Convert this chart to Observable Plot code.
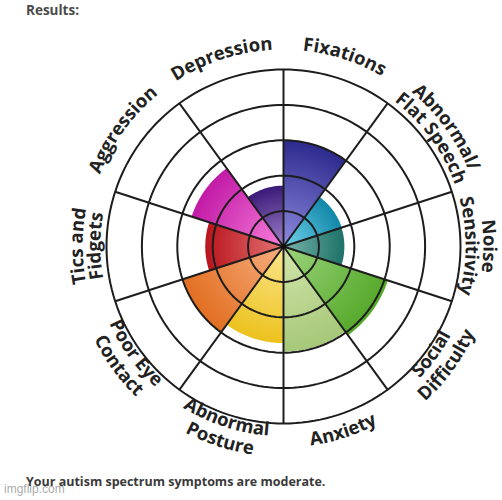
<!DOCTYPE html>
<html>
<head>
<meta charset="utf-8">
<script src="https://cdn.jsdelivr.net/npm/d3@7"></script>
<script src="https://cdn.jsdelivr.net/npm/@observablehq/plot@0.6"></script>
<style>
  html, body { margin: 0; padding: 0; background: #fff; }
  #wrap { position: relative; width: 502px; height: 500px; overflow: hidden; font-family: "Open Sans", sans-serif; }
  #title { position: absolute; left: 26px; top: 1px; font-weight: 700; font-size: 13.5px; line-height: 18px; color: #4a4a4a; }
  #chart { position: absolute; left: 0; top: 24px; }
  #caption { position: absolute; left: 26px; top: 473px; font-weight: 700; font-size: 12.5px; line-height: 18px; color: #3a3a3a; }
  #mark { position: absolute; left: 4px; top: 482px; font-family: "Liberation Sans", Arial, sans-serif; font-size: 12px; line-height: 14px; color: rgba(140,140,140,0.75); }
</style>
</head>
<body>
<div id="wrap">
  <div id="title"></div>
  <div id="chart"></div>
  <div id="caption"></div>
  <div id="mark"></div>
</div>
<script>
// ---- data ----
const titleText = "Results:";
const captionText = "Your autism spectrum symptoms are moderate.";
const watermarkText = "imgflip.com";
const categories = ["Fixations", "Abnormal/Flat Speech", "Noise Sensitivity", "Social Difficulty", "Anxiety",
  "Abnormal Posture", "Poor Eye Contact", "Tics and Fidgets", "Aggression", "Depression"];
const scores = [3.0, 1.73, 1.72, 3.1, 2.97, 2.73, 3.0, 2.21, 2.73, 1.72];
const labelLines = [["Fixations"], ["Abnormal/", "Flat Speech"], ["Noise", "Sensitivity"], ["Social", "Difficulty"],
  ["Anxiety"], ["Abnormal", "Posture"], ["Poor Eye", "Contact"], ["Tics and", "Fidgets"], ["Aggression"], ["Depression"]];
const outerColors = ["#2d2a8e", "#1287a8", "#1e7268", "#55a82a", "#a6c878", "#ecc21e", "#e26f22", "#b9151d", "#c21aa6", "#3a1a78"];
const innerColors = ["#8e8be0", "#72d2ec", "#78b4ac", "#9cd47c", "#d2e6ac", "#fbe68e", "#f7ae80", "#e47474", "#f77edb", "#a082cc"];
const ringLevels = [1, 2, 3, 4, 5];

// ---- layout ----
const W = 502, H = 446, CX = 283, CY = 222, UNIT = 35.4;
const maxLevel = d3.max(ringLevels);
const step = 360 / categories.length;
const rad = d => d * Math.PI / 180;
const pt = (r, deg) => ({x: r * Math.sin(rad(deg)), y: r * Math.cos(rad(deg))});

document.getElementById("title").textContent = titleText;
document.getElementById("caption").textContent = captionText;
document.getElementById("mark").textContent = watermarkText;

const wedges = categories.map((c, i) => {
  const a0 = i * step, a1 = (i + 1) * step;
  const pts = [{x: 0, y: 0}];
  for (let k = 0; k <= 30; k++) pts.push(pt(scores[i], a0 + (a1 - a0) * k / 30));
  return pts;
});
const ringPts = ringLevels.flatMap(r => d3.range(0, 360, 2).map(a => ({...pt(r, a), ring: r})));
const spokes = categories.map((c, i) => {
  const p = pt(maxLevel, i * step);
  return {x1: 0, y1: 0, x2: p.x, y2: p.y};
});

const plot = Plot.plot({
  width: W, height: H, margin: 0,
  style: {background: "transparent"},
  x: {domain: [-CX / UNIT, (W - CX) / UNIT], axis: null},
  y: {domain: [-(H - CY) / UNIT, CY / UNIT], axis: null},
  marks: [
    ...wedges.map((w, i) => Plot.line(w, {x: "x", y: "y", curve: "linear-closed", fill: `url(#wg${i})`, stroke: "none"})),
    Plot.line(ringPts, {x: "x", y: "y", z: "ring", curve: "linear-closed", stroke: "#1d1d1d", strokeWidth: 2}),
    Plot.link(spokes, {x1: "x1", y1: "y1", x2: "x2", y2: "y2", stroke: "#1d1d1d", strokeWidth: 2}),
    Plot.dot([{x: 0, y: 0}], {x: "x", y: "y", r: 2.6, fill: "#111", stroke: "none"})
  ]
});

const sx = plot.scale("x"), sy = plot.scale("y");
const cx = sx.apply(0), cy = sy.apply(0);
const pxPerUnit = sx.apply(1) - sx.apply(0);
const svg = d3.select(plot);
const defs = svg.insert("defs", ":first-child");
categories.forEach((c, i) => {
  const g = defs.append("radialGradient").attr("id", `wg${i}`).attr("gradientUnits", "userSpaceOnUse")
    .attr("cx", cx).attr("cy", cy).attr("r", scores[i] * pxPerUnit);
  g.append("stop").attr("offset", "0").attr("stop-color", innerColors[i]);
  g.append("stop").attr("offset", "1").attr("stop-color", outerColors[i]);
});

// curved labels
const labelG = svg.append("g").attr("font-family", "'Open Sans', sans-serif").attr("font-weight", 700)
  .attr("font-size", 18.5).attr("fill", "#222");
labelLines.forEach((lines, i) => {
  const ac = i * step + step / 2;
  const bottom = ac > 100 && ac < 260;
  let radii;
  if (bottom) radii = lines.length === 1 ? [5.69] : [5.37, 5.95];
  else radii = lines.length === 1 ? [5.55] : [5.66, 5.16];
  lines.forEach((txt, j) => {
    const r = radii[j] * pxPerUnit;
    const aS = bottom ? ac + 89 : ac - 89;
    const aE = bottom ? ac - 89 : ac + 89;
    const p0 = [cx + r * Math.sin(rad(aS)), cy - r * Math.cos(rad(aS))];
    const p1 = [cx + r * Math.sin(rad(aE)), cy - r * Math.cos(rad(aE))];
    const id = `lp${i}_${j}`;
    defs.append("path").attr("id", id)
      .attr("d", `M${p0[0]},${p0[1]} A${r},${r} 0 0 ${bottom ? 0 : 1} ${p1[0]},${p1[1]}`);
    labelG.append("text")
      .append("textPath").attr("href", `#${id}`).attr("startOffset", "50%").attr("text-anchor", "middle")
      .text(txt);
  });
});

document.getElementById("chart").appendChild(plot);
</script>
</body>
</html>
